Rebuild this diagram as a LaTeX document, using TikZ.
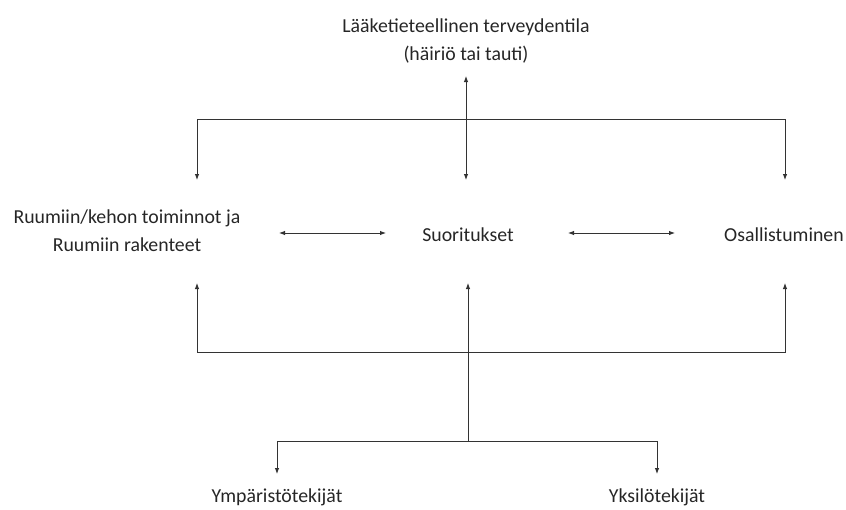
\documentclass[tikz,border=0pt]{standalone}
\usepackage{fontspec}
\setmainfont{Carlito}
\usetikzlibrary{arrows.meta}
\begin{document}
\begin{tikzpicture}[x=1pt,y=-1pt,
  lbl/.style={font=\fontsize{19.8}{28}\selectfont, align=center, inner sep=0pt, text=black!85},
  conn/.style={draw=black!80, line width=0.9pt},
  arr/.style={conn, -{Latex[length=6pt,width=4.5pt]}},
  darr/.style={conn, {Latex[length=6pt,width=4.5pt]}-{Latex[length=6pt,width=4.5pt]}}]
\useasboundingbox (0,0) rectangle (846,509);
% texts
\node[lbl] (health) at (466,41) {Lääketieteellinen terveydentila\\(häiriö tai tauti)};
\node[lbl] (body) at (127,231) {Ruumiin/kehon toiminnot ja\\Ruumiin rakenteet};
\node[lbl] (act) at (468,235) {Suoritukset};
\node[lbl] (part) at (784,235) {Osallistuminen};
\node[lbl] (env) at (277,497) {Ympäristötekijät};
\node[lbl] (pers) at (657,497) {Yksilötekijät};
% coordinates
\coordinate (htip) at (466,76);
\coordinate (tC) at (466,119);
\coordinate (tL) at (197,119);
\coordinate (tR) at (785,119);
\coordinate (dL) at (197,180);
\coordinate (dC) at (466,180);
\coordinate (dR) at (785,180);
\coordinate (a1) at (279,233);
\coordinate (a2) at (386,233);
\coordinate (a3) at (568,233);
\coordinate (a4) at (675,233);
\coordinate (uL) at (197,283);
\coordinate (uC) at (468,283);
\coordinate (uR) at (785,283);
\coordinate (bL) at (197,352);
\coordinate (bC) at (468,352);
\coordinate (bR) at (785,352);
\coordinate (sC) at (468,441);
\coordinate (sL) at (277,441);
\coordinate (sR) at (657,441);
\coordinate (eL) at (277,474);
\coordinate (eR) at (657,474);
% connectors
\draw[darr] (htip) -- (dC);
\draw[arr] (tC) -- (tL) -- (dL);
\draw[arr] (tC) -- (tR) -- (dR);
\draw[darr] (a1) -- (a2);
\draw[darr] (a3) -- (a4);
\draw[arr] (sC) -- (uC);
\draw[arr] (bC) -- (bL) -- (uL);
\draw[arr] (bC) -- (bR) -- (uR);
\draw[arr] (sC) -- (sL) -- (eL);
\draw[arr] (sC) -- (sR) -- (eR);
\end{tikzpicture}
\end{document}
